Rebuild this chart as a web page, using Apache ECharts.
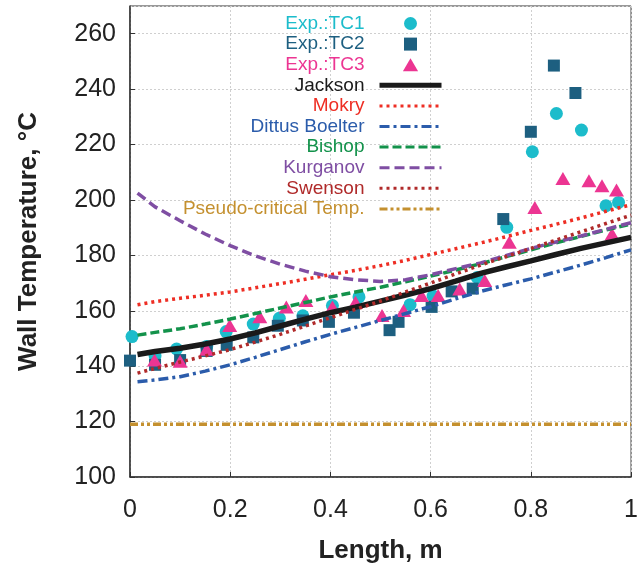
<!DOCTYPE html>
<html>
<head>
<meta charset="utf-8">
<script src="https://cdn.jsdelivr.net/npm/echarts@6/dist/echarts.min.js"></script>
<style>
  html, body { margin: 0; padding: 0; background: #fff; }
  #chart { width: 641px; height: 569px; }
</style>
</head>
<body>
<div id="chart"></div>
<script>
// experimental points [length, temperature]
const tc1 = [
  [0.004, 150.7], [0.05, 143.8], [0.093, 146.2], [0.153, 147.1], [0.192, 152.5],
  [0.246, 155.2], [0.298, 157.3], [0.345, 158.2], [0.404, 161.9], [0.457, 165],
  [0.559, 162.2], [0.605, 165.3], [0.693, 172], [0.752, 190.1], [0.803, 217.4],
  [0.851, 231.2], [0.901, 225.2], [0.95, 197.9], [0.975, 199.1]
];
const tc2 = [
  [0, 142], [0.05, 140.5], [0.1, 142.2], [0.153, 145.5], [0.193, 147.7],
  [0.246, 150.4], [0.295, 154.6], [0.345, 156.5], [0.397, 156], [0.447, 159.3],
  [0.518, 153], [0.536, 156], [0.602, 161.4], [0.642, 167], [0.684, 168],
  [0.745, 193.1], [0.8, 224.6], [0.846, 248.5], [0.889, 238.6]
];
const tc3 = [
  [0.049, 142.2], [0.1, 141.8], [0.153, 146.1], [0.199, 154.7], [0.259, 157.8],
  [0.312, 161.4], [0.351, 163.7], [0.404, 161.4], [0.45, 163.1], [0.503, 158.3],
  [0.546, 160.1], [0.582, 165.5], [0.615, 165.5], [0.658, 167.9], [0.708, 170.9],
  [0.757, 184.7], [0.808, 197.3], [0.864, 207.7], [0.916, 206.9], [0.942, 205.1],
  [0.962, 187.7], [0.971, 203.6]
];

// correlations, sampled along the length
const lengthX = [0.015, 0.05, 0.1, 0.15, 0.2, 0.25, 0.3, 0.35, 0.4, 0.45, 0.5,
  0.55, 0.6, 0.65, 0.7, 0.75, 0.8, 0.85, 0.9, 0.95, 1.0];
const jackson = [144.2, 145.3, 146.5, 148, 149.8, 152, 154.5, 157, 159.3, 161.3, 163.5,
  165.7, 168, 170.7, 173.5, 175.8, 178, 180.3, 182.5, 184.5, 186.5];
const mokry = [162.2, 163.3, 164.5, 165.6, 166.8, 168.3, 169.8, 171.4, 173, 174.6, 176.3,
  178.2, 180.3, 182.4, 184.5, 186.7, 189, 191.2, 193.5, 195.9, 198.3];
const dittus = [134.4, 135, 136.2, 138.2, 140.5, 143.2, 146, 148.8, 151.5, 154, 156.5,
  159, 161.5, 164.3, 167, 169.3, 171.5, 174, 176.5, 179.2, 182];
const bishop = [151.2, 152.2, 153.5, 155.2, 157, 159, 161, 163, 165, 166.8, 168.5,
  170.5, 172.5, 174.7, 177, 179.5, 182, 184.5, 186.8, 189.2, 191.3];
const kurganov = [202.5, 197.5, 192.5, 187.7, 183.5, 179.8, 176.8, 174.3, 172.3, 171.2, 170.6,
  171.2, 173, 175.2, 177.3, 179.9, 182.5, 184.8, 187, 189.4, 191.8];
const swenson = [137.5, 139.2, 141.5, 143.7, 146, 148.7, 151.5, 154.5, 157.5, 160.5, 163.5,
  166.8, 170, 173.3, 176.5, 179.5, 182.5, 185.5, 188.5, 191.5, 194.5];
const pseudoX = [0, 1];
const pseudo = [119, 119];

const pair = (xs, ys) => xs.map((x, i) => [x, ys[i]]);

const colors = {
  tc1: "#1cbccb",
  tc2: "#1d5f80",
  tc3: "#ec3592",
  jackson: "#1a1a1a",
  mokry: "#ee2e24",
  dittus: "#2b5cab",
  bishop: "#13924b",
  kurganov: "#7f4ea3",
  swenson: "#b02a2a",
  pseudo: "#c4902f",
};

const font = "Liberation Sans, Arial, sans-serif";

function lineSeries(name, data, color, width, type) {
  return {
    name: name,
    type: "line",
    data: data,
    symbol: "none",
    lineStyle: { color: color, width: width, type: type, cap: "butt" },
    itemStyle: { color: color },
    emphasis: { disabled: true },
  };
}

const chart = echarts.init(document.getElementById("chart"));

// name, colour, legend icon (markers only), legend line width
const legendNames = [
  ["Exp.:TC1", colors.tc1, "circle"],
  ["Exp.:TC2", colors.tc2, "path://M0,0H12V12H0Z"],
  ["Exp.:TC3", colors.tc3, "path://M7,0L14,12H0Z"],
  ["Jackson", colors.jackson, null, 5],
  ["Mokry", colors.mokry, null, 3],
  ["Dittus Boelter", colors.dittus, null, 3],
  ["Bishop", colors.bishop, null, 3],
  ["Kurganov", colors.kurganov, null, 3],
  ["Swenson", colors.swenson, null, 3],
  ["Pseudo-critical Temp.", colors.pseudo, null, 3],
];

chart.setOption({
  animation: false,
  textStyle: { fontFamily: font },
  grid: {
    left: 130, right: 5, top: 6, bottom: 90,
    show: true, borderColor: "#333", borderWidth: 1,
  },
  legend: {
    orient: "vertical",
    right: 192,
    top: 9,
    align: "right",
    itemWidth: 62,
    itemHeight: 13,
    itemGap: 1.6,
    selectedMode: false,
    symbolKeepAspect: true,
    textStyle: { fontSize: 19, lineHeight: 18, fontFamily: font, padding: [0, 10, 0, 0] },
    data: legendNames.map((d) => {
      const item = { name: d[0], textStyle: { color: d[1] } };
      if (d[2]) item.icon = d[2];
      else {
        item.itemStyle = { opacity: 0 };
        item.lineStyle = { width: d[3] };
      }
      return item;
    }),
  },
  xAxis: {
    type: "value",
    min: 0, max: 1, interval: 0.2,
    name: "Length, m",
    nameLocation: "middle",
    nameGap: 61,
    nameTextStyle: { fontSize: 26, fontWeight: "bold", color: "#222", fontFamily: font },
    axisLine: { lineStyle: { color: "#333", width: 1.5 } },
    axisTick: { inside: true, length: 5, lineStyle: { color: "#333" } },
    axisLabel: { fontSize: 25, color: "#222", margin: 21, fontFamily: font },
    splitLine: { show: true, lineStyle: { color: "#cfcfcf", type: [2, 2] } },
  },
  yAxis: {
    type: "value",
    min: 100, max: 270, interval: 20,
    name: "Wall Temperature, °C",
    nameLocation: "middle",
    nameGap: 88,
    nameTextStyle: { fontSize: 26, fontWeight: "bold", color: "#222", fontFamily: font },
    axisLine: { show: true, lineStyle: { color: "#333", width: 1.5 } },
    axisTick: { show: true, inside: true, length: 5, lineStyle: { color: "#333" } },
    axisLabel: {
      fontSize: 25, color: "#222", margin: 14, showMaxLabel: false,
      padding: [6, 0, 0, 0], fontFamily: font,
    },
    splitLine: { show: true, lineStyle: { color: "#cfcfcf", type: [2, 2] } },
  },
  series: [
    {
      name: "Exp.:TC1", type: "scatter", data: tc1,
      symbol: "circle", symbolSize: 13,
      itemStyle: { color: colors.tc1, opacity: 1 },
    },
    {
      name: "Exp.:TC2", type: "scatter", data: tc2,
      symbol: "rect", symbolSize: 12,
      itemStyle: { color: colors.tc2, opacity: 1 },
    },
    {
      name: "Exp.:TC3", type: "scatter", data: tc3,
      symbol: "triangle", symbolSize: [15, 13],
      itemStyle: { color: colors.tc3, opacity: 1 },
    },
    lineSeries("Jackson", pair(lengthX, jackson), colors.jackson, 5.5, "solid"),
    lineSeries("Mokry", pair(lengthX, mokry), colors.mokry, 3.5, [3, 4]),
    lineSeries("Dittus Boelter", pair(lengthX, dittus), colors.dittus, 3.5, [10, 4, 3, 4]),
    lineSeries("Bishop", pair(lengthX, bishop), colors.bishop, 3.5, [9, 4]),
    lineSeries("Kurganov", pair(lengthX, kurganov), colors.kurganov, 3.5, [10, 5]),
    lineSeries("Swenson", pair(lengthX, swenson), colors.swenson, 3.5, [3, 4]),
    lineSeries("Pseudo-critical Temp.", pair(pseudoX, pseudo), colors.pseudo, 3.5, [8, 3, 3, 3, 3, 3]),
  ],
});
</script>
</body>
</html>
